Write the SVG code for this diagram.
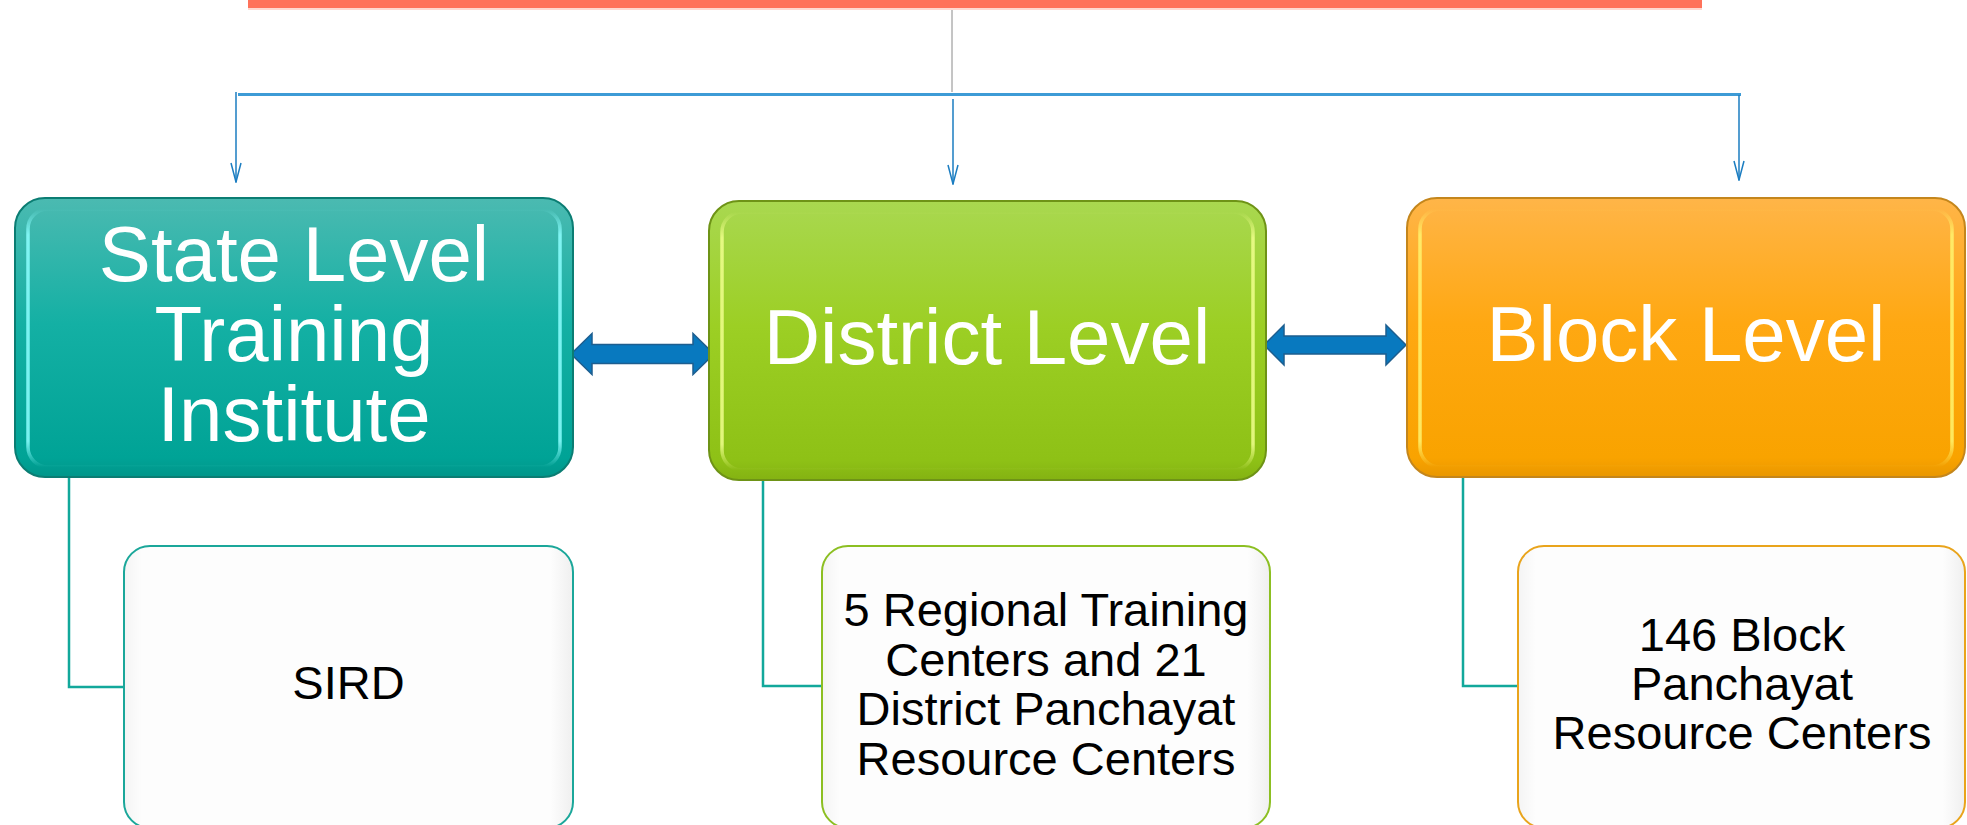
<svg xmlns="http://www.w3.org/2000/svg" width="1967" height="825" viewBox="0 0 1967 825">
  <defs>
    <linearGradient id="gTeal" x1="0" y1="0" x2="0" y2="1">
      <stop offset="0" stop-color="#4BBAB1"/>
      <stop offset="0.45" stop-color="#14B0A4"/>
      <stop offset="0.93" stop-color="#00A396"/>
      <stop offset="1" stop-color="#00968A"/>
    </linearGradient>
    <linearGradient id="gGreen" x1="0" y1="0" x2="0" y2="1">
      <stop offset="0" stop-color="#A9D850"/>
      <stop offset="0.45" stop-color="#9CCF24"/>
      <stop offset="0.93" stop-color="#8EC116"/>
      <stop offset="1" stop-color="#84B212"/>
    </linearGradient>
    <linearGradient id="gOrange" x1="0" y1="0" x2="0" y2="1">
      <stop offset="0" stop-color="#FFB548"/>
      <stop offset="0.45" stop-color="#FFA812"/>
      <stop offset="0.93" stop-color="#F9A300"/>
      <stop offset="1" stop-color="#E99700"/>
    </linearGradient>
    <linearGradient id="rTeal" x1="0" y1="0" x2="0" y2="1">
      <stop offset="0" stop-color="#8CFFFF" stop-opacity="0"/>
      <stop offset="0.1" stop-color="#8CFFFF" stop-opacity="0.85"/>
      <stop offset="0.9" stop-color="#8CFFFF" stop-opacity="0.85"/>
      <stop offset="1" stop-color="#8CFFFF" stop-opacity="0"/>
    </linearGradient>
    <linearGradient id="rGreen" x1="0" y1="0" x2="0" y2="1">
      <stop offset="0" stop-color="#F0FF8C" stop-opacity="0"/>
      <stop offset="0.1" stop-color="#F0FF8C" stop-opacity="0.85"/>
      <stop offset="0.9" stop-color="#F0FF8C" stop-opacity="0.85"/>
      <stop offset="1" stop-color="#F0FF8C" stop-opacity="0"/>
    </linearGradient>
    <linearGradient id="rOrange" x1="0" y1="0" x2="0" y2="1">
      <stop offset="0" stop-color="#FFF46E" stop-opacity="0"/>
      <stop offset="0.1" stop-color="#FFF46E" stop-opacity="0.85"/>
      <stop offset="0.9" stop-color="#FFF46E" stop-opacity="0.85"/>
      <stop offset="1" stop-color="#FFF46E" stop-opacity="0"/>
    </linearGradient>
    <linearGradient id="gWhite" x1="0" y1="0" x2="1" y2="0">
      <stop offset="0" stop-color="#F4F4F4"/>
      <stop offset="0.04" stop-color="#FDFDFD"/>
      <stop offset="0.95" stop-color="#FDFDFD"/>
      <stop offset="1" stop-color="#EFEFEF"/>
    </linearGradient>
    <marker id="vhead" markerUnits="userSpaceOnUse" viewBox="-21 -7 22 14" refX="0" refY="0" markerWidth="22" markerHeight="14" orient="auto">
      <path d="M-19,-5 L0,0 L-19,5" fill="none" stroke="#1B7DC1" stroke-width="1.5"/>
    </marker>
  </defs>
  <style>
    .lvl { stroke-width: 2; }
    .rim { fill: none; stroke-width: 3.5; }
    .big { font-family: "Liberation Sans", Arial, sans-serif; font-size: 78px; fill: #FFFFFF; text-anchor: middle; }
    .sub { font-family: "Liberation Sans", Arial, sans-serif; font-size: 47px; fill: #000000; text-anchor: middle; }
    .child { fill: url(#gWhite); stroke-width: 2; }
    .tree { fill: none; stroke: #12A89B; stroke-width: 2.5; }
    .drop { fill: none; stroke: #1B7DC1; stroke-width: 1.5; marker-end: url(#vhead); }
    .dbl { fill: #0879BF; stroke: #1D5E8F; stroke-width: 1.5; }
  </style>

  <rect id="title-bar" x="248" y="0" width="1454" height="8" fill="#FF725A"/>
  <rect x="248" y="8" width="1454" height="2" fill="#FFD9D0"/>

  <g id="connectors">
    <line x1="952" y1="10" x2="952" y2="92" stroke="#8A8A8A" stroke-width="1"/>
    <line x1="238" y1="94.5" x2="1741" y2="94.5" stroke="#3D9BD6" stroke-width="3"/>
    <line class="drop" x1="236" y1="92" x2="236" y2="182"/>
    <line class="drop" x1="953" y1="99" x2="953" y2="184"/>
    <line class="drop" x1="1739" y1="95" x2="1739" y2="180"/>
    <polygon class="dbl" points="571,354 592,333.5 592,344.5 693,344.5 693,333.5 714,354 693,374.5 693,363.5 592,363.5 592,374.5"/>
    <polygon class="dbl" points="1264,345 1284,325 1284,336 1386,336 1386,325 1406,345 1386,365 1386,354 1284,354 1284,365"/>
    <polyline class="tree" points="69,477 69,687 124,687"/>
    <polyline class="tree" points="763,480 763,686 822,686"/>
    <polyline class="tree" points="1463,477 1463,686 1518,686"/>
  </g>

  <g id="state-level">
    <rect class="lvl" x="15" y="198" width="558" height="279" rx="30" fill="url(#gTeal)" stroke="#0B7D73"/>
    <rect class="rim" x="28" y="209" width="532" height="258" rx="20" stroke="url(#rTeal)"/>
    <text class="big" x="294" y="281">State Level</text>
    <text class="big" x="294" y="361">Training</text>
    <text class="big" x="294" y="441">Institute</text>
  </g>

  <g id="district-level">
    <rect class="lvl" x="709" y="201" width="557" height="279" rx="30" fill="url(#gGreen)" stroke="#6E9316"/>
    <rect class="rim" x="722" y="212" width="531" height="258" rx="20" stroke="url(#rGreen)"/>
    <text class="big" x="987" y="364">District Level</text>
  </g>

  <g id="block-level">
    <rect class="lvl" x="1407" y="198" width="558" height="279" rx="30" fill="url(#gOrange)" stroke="#C4861C"/>
    <rect class="rim" x="1420" y="209" width="532" height="258" rx="20" stroke="url(#rOrange)"/>
    <text class="big" x="1686" y="361">Block Level</text>
  </g>

  <g id="sird">
    <rect class="child" x="124" y="546" width="449" height="282" rx="26" stroke="#1BA79A"/>
    <text class="sub" x="348.5" y="699">SIRD</text>
  </g>

  <g id="district-centers">
    <rect class="child" x="822" y="546" width="448" height="282" rx="26" stroke="#8CBF22"/>
    <text class="sub" x="1046" y="626">5 Regional Training</text>
    <text class="sub" x="1046" y="676">Centers and 21</text>
    <text class="sub" x="1046" y="725">District Panchayat</text>
    <text class="sub" x="1046" y="775">Resource Centers</text>
  </g>

  <g id="block-centers">
    <rect class="child" x="1518" y="546" width="447" height="282" rx="26" stroke="#E9A41C"/>
    <text class="sub" x="1742" y="651">146 Block</text>
    <text class="sub" x="1742" y="700">Panchayat</text>
    <text class="sub" x="1742" y="749">Resource Centers</text>
  </g>
</svg>
